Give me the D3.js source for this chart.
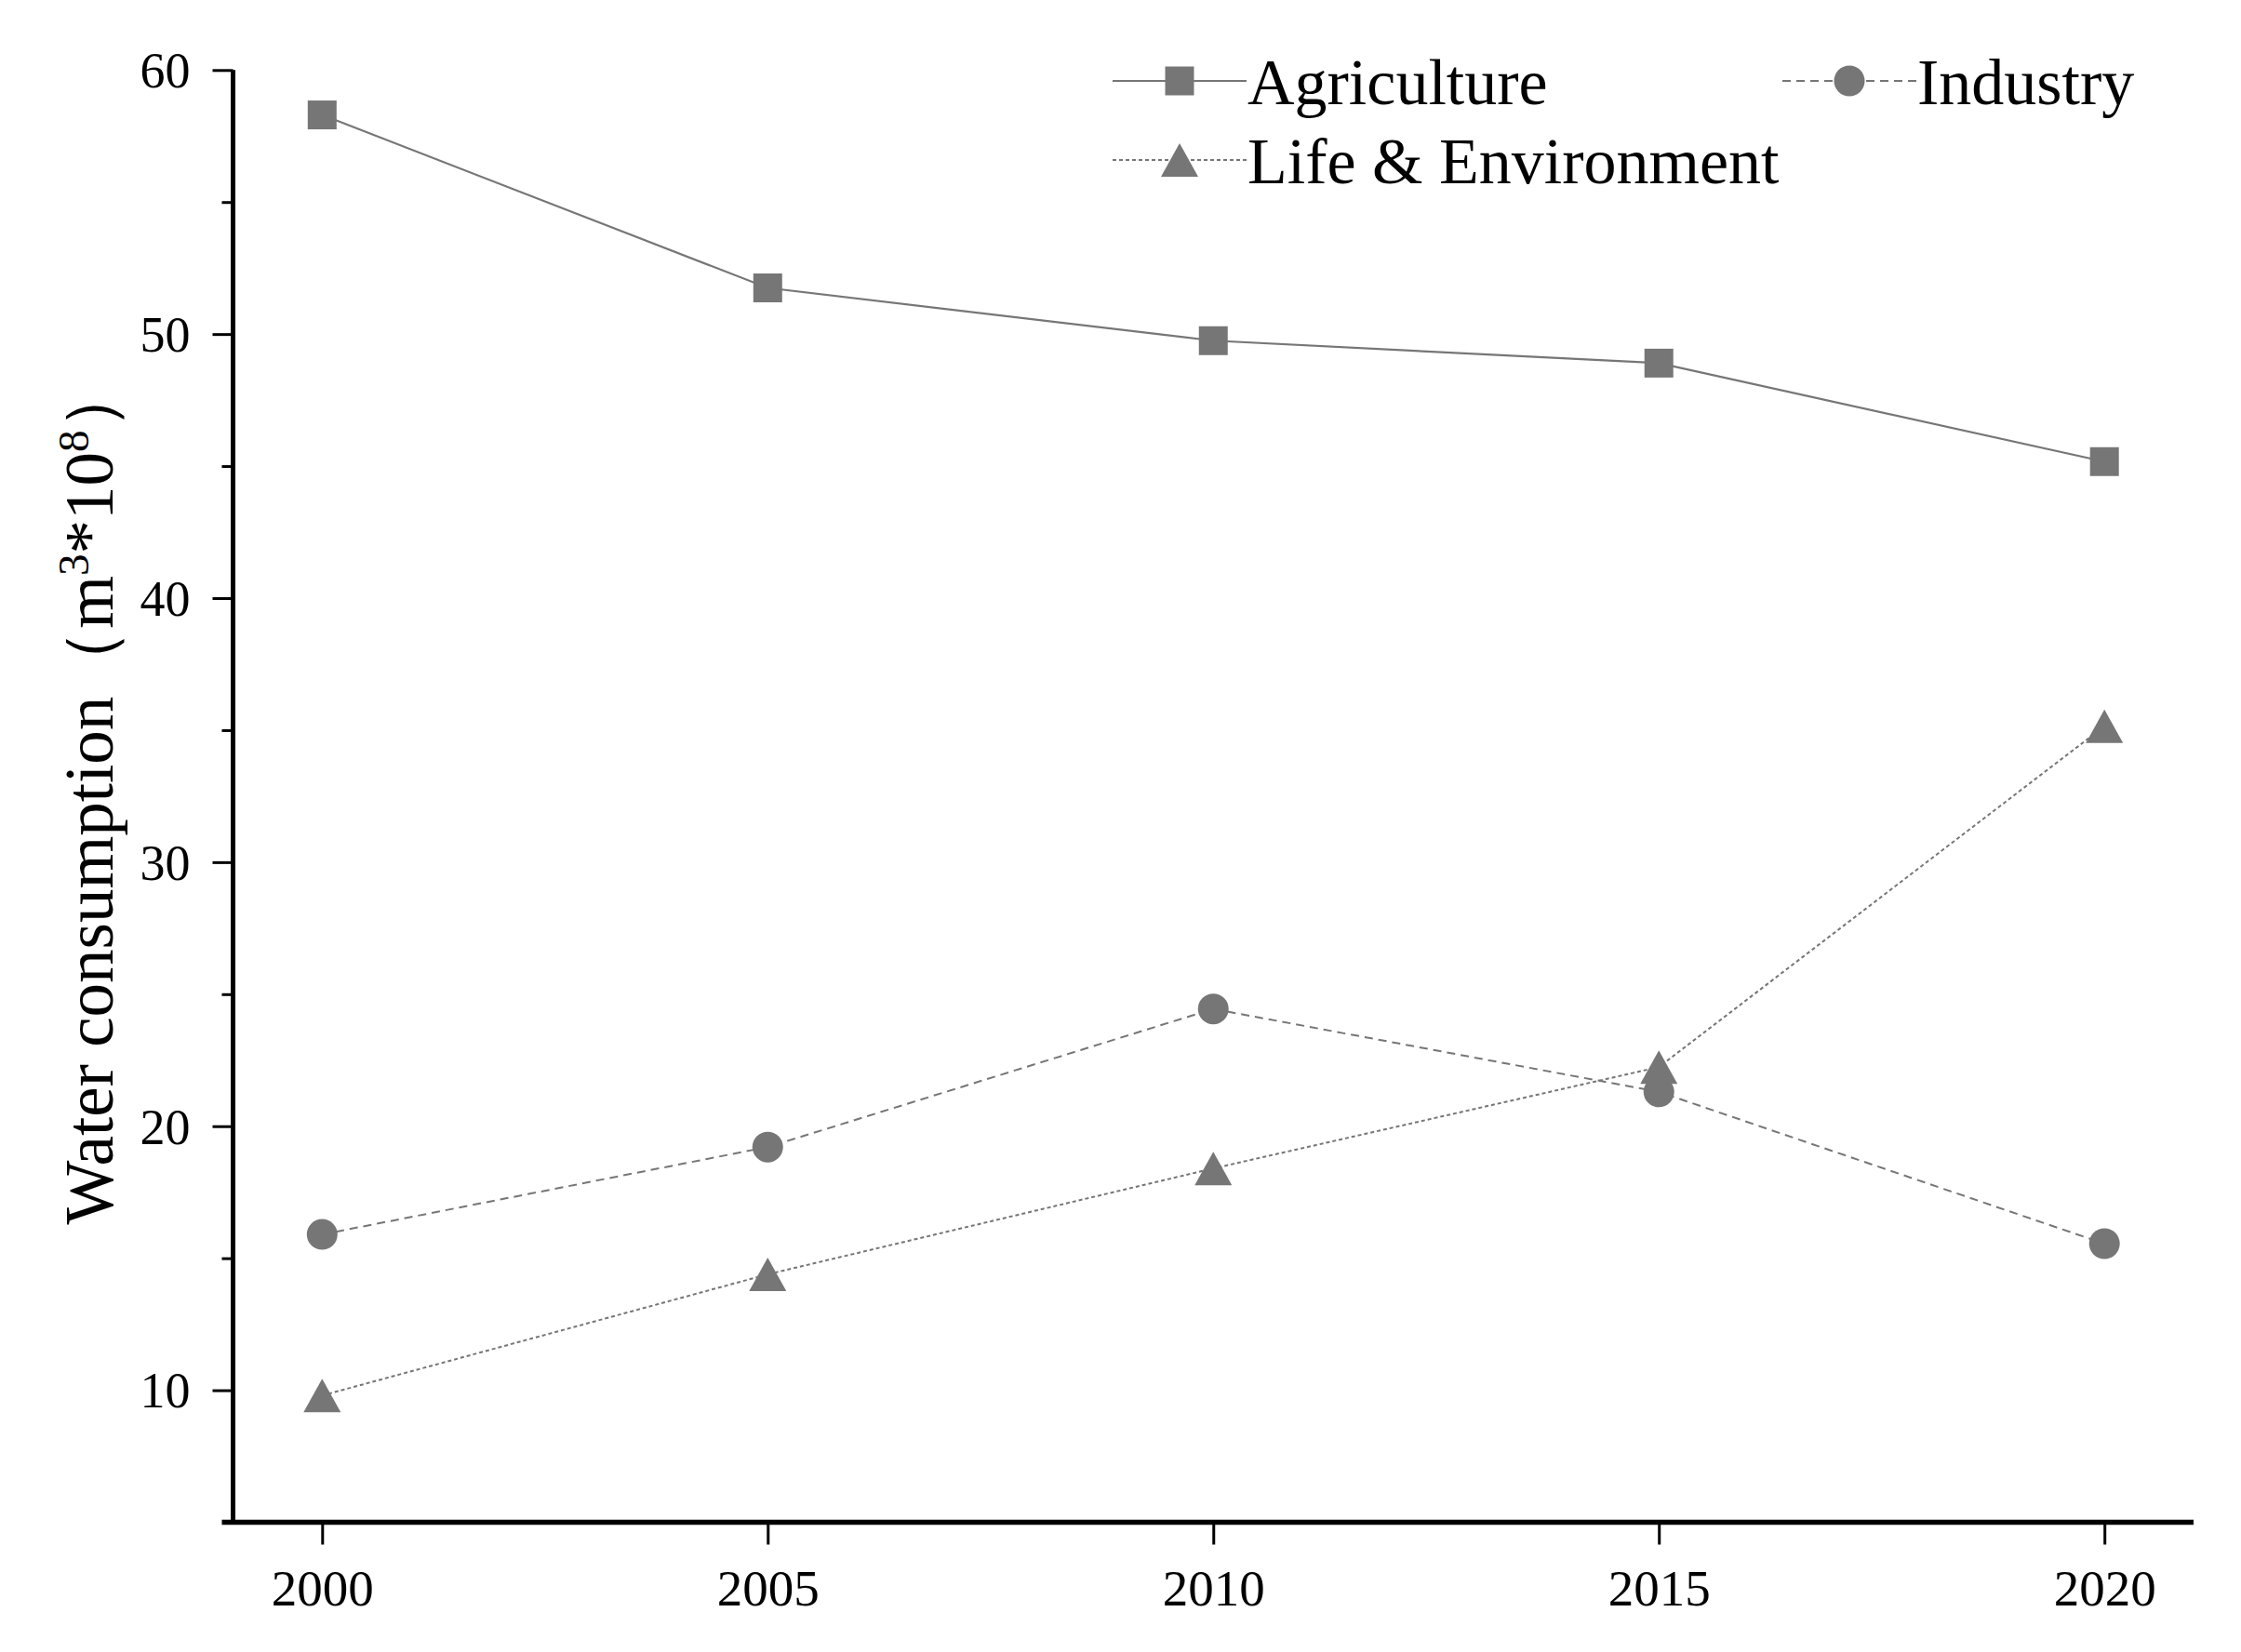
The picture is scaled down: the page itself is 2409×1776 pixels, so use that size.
<!DOCTYPE html>
<html>
<head>
<meta charset="utf-8">
<script src="https://cdn.jsdelivr.net/npm/d3@7"></script>
<style>
  html, body { margin: 0; padding: 0; background: #fff; }
  svg { display: block; }
  text { font-family: "Liberation Serif", "Times New Roman", serif; fill: #000; }
</style>
</head>
<body>
<svg id="chart" width="2409" height="1776"></svg>
<script>
// ---- Data ----
const years = [2000, 2005, 2010, 2015, 2020];
const agriculture = [58.3, 51.75, 49.75, 48.9, 45.17];
const industry = [15.9, 19.21, 24.44, 21.3, 15.55];
const lifeEnv = [9.8, 14.39, 18.4, 22.24, 35.15];
const seriesNames = ["Agriculture", "Industry", "Life & Environment"];
const yMajorTicks = [10, 20, 30, 40, 50, 60];
const yMinorTicks = [15, 25, 35, 45, 55];
const xTicks = [2000, 2005, 2010, 2015, 2020];

// ---- Layout ----
const chartW = 2409, chartH = 1776;
const plotLeft = 250.5, plotRight = 2358, plotTop = 75.3, plotBottom = 1636.5;
const grey = "#767676";

const svg = d3.select("#chart");
svg.append("rect").attr("width", chartW).attr("height", chartH).attr("fill", "#fff");

const x = d3.scaleLinear().domain([1999, 2021]).range([plotLeft, plotRight]);
const y = d3.scaleLinear().domain([5, 60]).range([plotBottom, plotTop]);

// ---- Axes ----
const yAxis = svg.append("g").attr("transform", `translate(${plotLeft},0)`)
  .call(d3.axisLeft(y).tickValues(yMajorTicks).tickSize(22).tickSizeOuter(0).tickPadding(24).tickFormat(d3.format("d")));
yAxis.select(".domain").remove();
yAxis.selectAll(".tick line").attr("stroke", "#000").attr("stroke-width", 3);
yAxis.selectAll(".tick text").attr("font-size", 54).attr("font-family", "Liberation Serif").attr("dy", "0.34em");

const yMinor = svg.append("g").attr("transform", `translate(${plotLeft},0)`)
  .call(d3.axisLeft(y).tickValues(yMinorTicks).tickSize(12).tickFormat(""));
yMinor.select(".domain").remove();
yMinor.selectAll(".tick line").attr("stroke", "#000").attr("stroke-width", 3);

const xAxis = svg.append("g").attr("transform", `translate(0,${plotBottom})`)
  .call(d3.axisBottom(x).tickValues(xTicks).tickSize(24).tickSizeOuter(0).tickPadding(26).tickFormat(d3.format("d")));
xAxis.select(".domain").remove();
xAxis.selectAll(".tick line").attr("stroke", "#000").attr("stroke-width", 3);
xAxis.selectAll(".tick text").attr("font-size", 55).attr("font-family", "Liberation Serif").attr("dy", "0.71em");

// axis lines
svg.append("line")
  .attr("x1", x(1999)).attr("x2", x(1999))
  .attr("y1", y(60)).attr("y2", y(5))
  .attr("stroke", "#000").attr("stroke-width", 5);
svg.append("line")
  .attr("x1", x(1999) - 12).attr("x2", x(2021))
  .attr("y1", y(5)).attr("y2", y(5))
  .attr("stroke", "#000").attr("stroke-width", 5.5);

// ---- Y title ----
const yTitle = svg.append("text")
  .attr("transform", `translate(121,${853}) rotate(-90)`)
  .attr("text-anchor", "middle")
  .attr("font-size", 73);
yTitle.append("tspan").text("Water consumption（m");
yTitle.append("tspan").attr("font-size", 47).attr("dy", -26).text("3");
yTitle.append("tspan").attr("dy", 26).text("*10");
yTitle.append("tspan").attr("font-size", 47).attr("dy", -26).text("8");
yTitle.append("tspan").attr("dy", 26).text("）");

// ---- Symbols ----
const triangleType = {
  draw(ctx, size) {
    const w = 40, h = 36;
    ctx.moveTo(0, -h / 2);
    ctx.lineTo(w / 2, h / 2);
    ctx.lineTo(-w / 2, h / 2);
    ctx.closePath();
  }
};
const squareType = {
  draw(ctx, size) {
    const s = 31;
    ctx.rect(-s / 2, -s / 2, s, s);
  }
};
const circleType = {
  draw(ctx, size) {
    const r = 16.5;
    ctx.moveTo(r, 0);
    ctx.arc(0, 0, r, 0, 2 * Math.PI);
  }
};

const series = [
  { name: seriesNames[0], values: agriculture, dash: null, width: 2.2, sym: squareType },
  { name: seriesNames[1], values: industry, dash: "9,6", width: 2, sym: circleType },
  { name: seriesNames[2], values: lifeEnv, dash: "4,3", width: 2, sym: triangleType }
];

const line = d3.line().x(d => x(d[0])).y(d => y(d[1]));

series.forEach(s => {
  const pts = years.map((yr, i) => [yr, s.values[i]]);
  svg.append("path")
    .datum(pts)
    .attr("d", line)
    .attr("fill", "none")
    .attr("stroke", grey)
    .attr("stroke-width", s.width)
    .attr("stroke-dasharray", s.dash);
});
series.forEach(s => {
  const pts = years.map((yr, i) => [yr, s.values[i]]);
  svg.selectAll(null).data(pts).enter().append("path")
    .attr("transform", d => `translate(${x(d[0])},${y(d[1])})`)
    .attr("d", d3.symbol().type(s.sym)())
    .attr("fill", grey);
});

// ---- Legend ----
const legendItems = [
  { s: series[0], lx: 1196, ly: 87 },
  { s: series[1], lx: 1916, ly: 87 },
  { s: series[2], lx: 1196, ly: 172 }
];
legendItems.forEach(it => {
  const g = svg.append("g").attr("transform", `translate(${it.lx},${it.ly})`);
  g.append("line").attr("x1", 0).attr("x2", 144).attr("y1", 0).attr("y2", 0)
    .attr("stroke", grey).attr("stroke-width", it.s.width)
    .attr("stroke-dasharray", it.s.dash);
  g.append("path").attr("transform", "translate(72,0)")
    .attr("d", d3.symbol().type(it.s.sym)()).attr("fill", grey);
  g.append("text").attr("x", 145).attr("y", 25).attr("font-size", 70).text(it.s.name);
});
</script>
</body>
</html>
